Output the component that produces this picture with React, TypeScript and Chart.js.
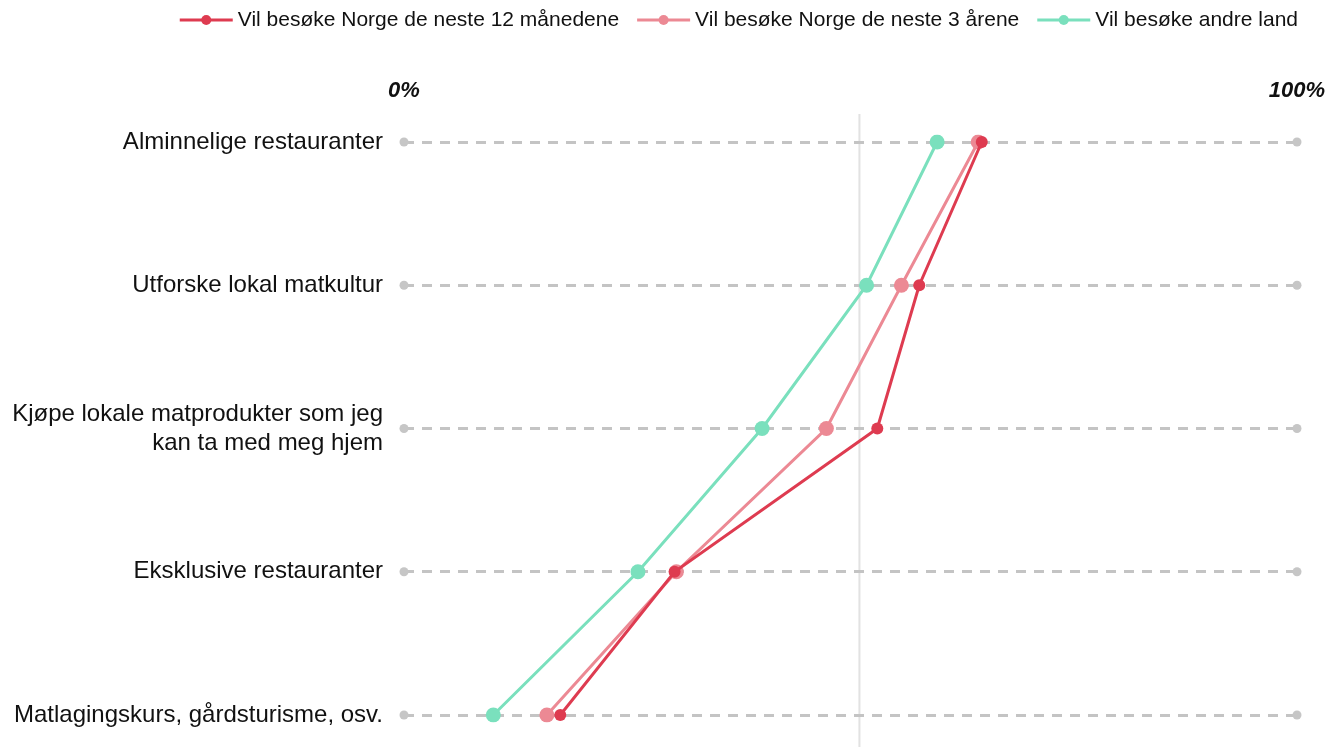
import React, { useEffect, useRef } from 'react';
import { Chart, registerables } from 'chart.js';

Chart.register(...registerables);

const categories: (string | string[])[] = [
  'Alminnelige restauranter',
  'Utforske lokal matkultur',
  ['Kjøpe lokale matprodukter som jeg', 'kan ta med meg hjem'],
  'Eksklusive restauranter',
  'Matlagingskurs, gårdsturisme, osv.',
];

const seriesNames = [
  'Vil besøke Norge de neste 12 månedene',
  'Vil besøke Norge de neste 3 årene',
  'Vil besøke andre land',
];

const next12Months = [64.7, 57.7, 53.0, 30.3, 17.5];
const next3Years = [64.3, 55.7, 47.3, 30.5, 16.0];
const otherCountries = [59.7, 51.8, 40.1, 26.2, 10.0];

const referenceValue = 51;
const axisTicks = [0, 100];

const colors = ['#de3b50', '#ec8994', '#7ae0bd'];
const pointRadii = [6, 7.5, 7.5];

const FONT = '"Liberation Sans", Arial, Helvetica, sans-serif';
const W = 1332;
const H = 747;

export default function App() {
  const ref = useRef<HTMLCanvasElement>(null);

  useEffect(() => {
    document.body.style.margin = '0';

    const decor = {
      id: 'decor',
      beforeDraw(chart: any) {
        const { ctx, chartArea, scales } = chart;
        const rx = scales.x.getPixelForValue(referenceValue);
        ctx.save();
        ctx.strokeStyle = '#e2e2e2';
        ctx.lineWidth = 2;
        ctx.beginPath();
        ctx.moveTo(rx, chartArea.top - 28);
        ctx.lineTo(rx, chart.height);
        ctx.stroke();
        ctx.restore();
      },
      beforeDatasetsDraw(chart: any) {
        const { ctx, chartArea, scales } = chart;
        ctx.save();
        ctx.fillStyle = '#c6c6c6';
        categories.forEach((_, i) => {
          const py = scales.y.getPixelForValue(i);
          [chartArea.left, chartArea.right].forEach((px: number) => {
            ctx.beginPath();
            ctx.arc(px, py, 4.5, 0, Math.PI * 2);
            ctx.fill();
          });
        });
        ctx.restore();
      },
      afterDraw(chart: any) {
        // legend: line-with-dot marker + label, right aligned
        const { ctx } = chart;
        const ds = chart.data.datasets;
        const markerW = 53;
        const markerGap = 5;
        const itemGap = 18;
        const rightEdge = 1298;
        const cy = 20;
        ctx.save();
        ctx.font = `21px ${FONT}`;
        const widths = ds.map((d: any) => ctx.measureText(d.label).width);
        const total =
          widths.reduce((a: number, b: number) => a + b, 0) +
          ds.length * (markerW + markerGap) +
          (ds.length - 1) * itemGap;
        let x = rightEdge - total;
        ds.forEach((d: any, i: number) => {
          const c = d.borderColor;
          ctx.strokeStyle = c;
          ctx.fillStyle = c;
          ctx.lineWidth = 3;
          ctx.beginPath();
          ctx.moveTo(x, cy);
          ctx.lineTo(x + markerW, cy);
          ctx.stroke();
          ctx.beginPath();
          ctx.arc(x + markerW / 2, cy, 5, 0, Math.PI * 2);
          ctx.fill();
          x += markerW + markerGap;
          ctx.fillStyle = '#111';
          ctx.textAlign = 'left';
          ctx.textBaseline = 'middle';
          ctx.fillText(d.label, x, cy);
          x += widths[i] + itemGap;
        });
        ctx.restore();
      },
    };

    const seriesData = [next12Months, next3Years, otherCountries];

    const chart = new Chart(ref.current!, {
      type: 'line',
      data: {
        labels: categories as any,
        datasets: seriesData.map((d, i) => ({
          label: seriesNames[i],
          data: d,
          borderColor: colors[i],
          backgroundColor: colors[i],
          pointBackgroundColor: colors[i],
          pointBorderColor: colors[i],
          pointBorderWidth: 0,
          pointRadius: pointRadii[i],
          pointHoverRadius: pointRadii[i],
          borderWidth: 3,
          tension: 0,
        })),
      },
      options: {
        indexAxis: 'y',
        animation: false,
        responsive: false,
        maintainAspectRatio: false,
        layout: { padding: { top: 0, right: 35, bottom: 32, left: 0 } },
        plugins: {
          tooltip: { enabled: false },
          legend: { display: false },
        },
        scales: {
          x: {
            type: 'linear',
            position: 'top',
            min: 0,
            max: 100,
            afterBuildTicks(s: any) {
              s.ticks = axisTicks.map((v) => ({ value: v }));
            },
            afterFit(s: any) {
              s.height = 142;
            },
            ticks: {
              callback: (v: any) => v + '%',
              font: { family: FONT, size: 22, weight: 'bold', style: 'italic' },
              color: '#111',
              padding: 0,
              maxRotation: 0,
              autoSkip: false,
            },
            grid: { display: false, drawTicks: true, tickLength: 38 },
            border: { display: false },
          },
          y: {
            type: 'category',
            offset: false,
            afterFit(s: any) {
              s.width = 404;
            },
            ticks: {
              font: { family: FONT, size: 24, lineHeight: 1.2 },
              color: '#111',
              padding: 0,
              autoSkip: false,
            },
            grid: {
              color: '#c4c4c4',
              lineWidth: 3,
              drawTicks: true,
              tickLength: 21,
              tickColor: 'rgba(0,0,0,0)',
            },
            border: { display: false, dash: [10, 8] },
          },
        },
      },
      plugins: [decor],
    } as any);

    return () => chart.destroy();
  }, []);

  return (
    <div style={{ width: W + 'px', height: H + 'px', position: 'relative' }}>
      <canvas ref={ref} width={W} height={H} style={{ display: 'block' }} />
    </div>
  );
}
